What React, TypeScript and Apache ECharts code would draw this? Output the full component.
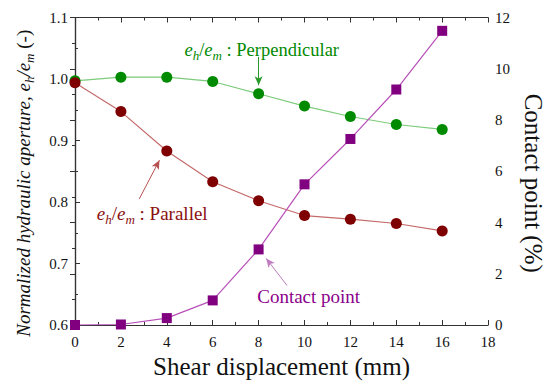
import React, { useEffect, useRef } from "react";
import * as echarts from "echarts";

const shear = [0, 2, 4, 6, 8, 10, 12, 14, 16];
const perpendicular = [0.997, 1.003, 1.003, 0.996, 0.976, 0.956, 0.939, 0.926, 0.918];
const parallel = [0.994, 0.947, 0.883, 0.833, 0.802, 0.778, 0.772, 0.765, 0.753];
const contact = [0, 0.02, 0.27, 0.96, 2.95, 5.49, 7.26, 9.19, 11.48];

const FONT = "Liberation Serif";

const richFor = (color: string, size: number) => ({
  i: { fontStyle: "italic", fontSize: size, color, fontFamily: FONT, lineHeight: size + 6 },
  s: {
    fontStyle: "italic",
    fontSize: Math.round(size * 0.68),
    color,
    fontFamily: FONT,
    verticalAlign: "bottom",
    lineHeight: size + 6,
  },
  n: { fontSize: size, color, fontFamily: FONT, lineHeight: size + 6 },
});

const textPoint = (coord: number[], formatter: string, color: string, size: number) => ({
  coord,
  symbol: "circle",
  symbolSize: 0,
  itemStyle: { color: "transparent" },
  label: {
    show: true,
    position: "right",
    distance: 0,
    formatter,
    rich: richFor(color, size),
  },
});

const arrowLine = (from: number[], to: number[], color: string) => ({
  silent: true,
  animation: false,
  symbol: ["none", "arrow"],
  symbolSize: [6, 9],
  label: { show: false },
  emphasis: { disabled: true },
  lineStyle: { color, width: 1, type: "solid" },
  data: [[{ coord: from }, { coord: to }]],
});

export default function App() {
  const ref = useRef<HTMLDivElement>(null);
  useEffect(() => {
    if (!ref.current) return;
    const chart = echarts.init(ref.current, undefined, { renderer: "svg" });
    const axisLine = { show: true, lineStyle: { color: "#333", width: 1.2 } };
    const tick = { show: true, inside: true, length: 5, lineStyle: { color: "#333" } };
    const minor = { show: true, splitNumber: 2, length: 3, lineStyle: { color: "#333" } };
    const label = { color: "#111", fontSize: 15, fontFamily: FONT };
    chart.setOption({
      animation: false,
      backgroundColor: "#fff",
      textStyle: { fontFamily: FONT },
      grid: { left: 75, right: 64, top: 17.5, bottom: 62 },
      xAxis: [
        {
          type: "value",
          min: 0,
          max: 18,
          interval: 2,
          position: "bottom",
          axisLine,
          axisTick: tick,
          minorTick: minor,
          splitLine: { show: false },
          axisLabel: { ...label, margin: 9 },
          name: "Shear displacement (mm)",
          nameLocation: "middle",
          nameGap: 27,
          nameTextStyle: { fontSize: 25, color: "#111", fontFamily: FONT },
        },
        {
          type: "value",
          min: 0,
          max: 18,
          interval: 2,
          position: "top",
          axisLine,
          axisTick: tick,
          minorTick: minor,
          splitLine: { show: false },
          axisLabel: { show: false },
        },
      ],
      yAxis: [
        {
          type: "value",
          min: 0.6,
          max: 1.1,
          interval: 0.1,
          position: "left",
          axisLine,
          axisTick: tick,
          minorTick: minor,
          splitLine: { show: false },
          axisLabel: { ...label, margin: 7, formatter: (v: number) => v.toFixed(1) },
          name: "{i|Normalized hydraulic aperture, e}{s|h}{i|/e}{s|m}{n| (-)}",
          nameLocation: "middle",
          nameGap: 39,
          nameTextStyle: { rich: richFor("#111", 19), padding: [0, 24, 0, 0] },
        },
        {
          type: "value",
          min: 0,
          max: 12,
          interval: 2,
          position: "right",
          axisLine,
          axisTick: tick,
          minorTick: minor,
          splitLine: { show: false },
          axisLabel: { ...label, margin: 7 },
          name: "Contact point (%)",
          nameLocation: "middle",
          nameRotate: -90,
          nameGap: 25,
          nameTextStyle: {
            fontSize: 25,
            color: "#111",
            fontFamily: FONT,
            padding: [0, 0, 0, 24],
          },
        },
      ],
      series: [
        {
          type: "line",
          name: "Perpendicular",
          xAxisIndex: 0,
          yAxisIndex: 0,
          data: shear.map((x, i) => [x, perpendicular[i]]),
          symbol: "circle",
          symbolSize: 11,
          itemStyle: { color: "#008a00" },
          lineStyle: { color: "#7ccc7c", width: 1.2 },
          markLine: arrowLine([8, 1.036], [8, 0.99], "#2a9a2a"),
          markPoint: {
            silent: true,
            data: [
              textPoint(
                [4.77, 1.047],
                "{i|e}{s|h}{n|/}{i|e}{s|m}{n| : Perpendicular}",
                "#008a00",
                18.5
              ),
            ],
          },
        },
        {
          type: "line",
          name: "Parallel",
          xAxisIndex: 0,
          yAxisIndex: 0,
          data: shear.map((x, i) => [x, parallel[i]]),
          symbol: "circle",
          symbolSize: 11,
          itemStyle: { color: "#7f0000" },
          lineStyle: { color: "#c46a6a", width: 1.2 },
          markLine: arrowLine([2.8, 0.805], [3.68, 0.868], "#b85050"),
          markPoint: {
            silent: true,
            data: [
              textPoint(
                [0.95, 0.782],
                "{i|e}{s|h}{n|/}{i|e}{s|m}{n| : Parallel}",
                "#8b1010",
                19
              ),
            ],
          },
        },
        {
          type: "line",
          name: "Contact point",
          xAxisIndex: 0,
          yAxisIndex: 1,
          data: shear.map((x, i) => [x, contact[i]]),
          symbol: "rect",
          symbolSize: 10,
          itemStyle: { color: "#800080" },
          lineStyle: { color: "#b850b8", width: 1.2 },
          markLine: arrowLine([9.24, 1.54], [8.33, 2.6], "#c07cc0"),
          markPoint: {
            silent: true,
            data: [textPoint([7.94, 1.11], "{n|Contact point}", "#8a008a", 19)],
          },
        },
      ],
    });
    return () => chart.dispose();
  }, []);
  return (
    <div
      ref={ref}
      style={{ position: "fixed", left: 0, top: 0, width: 554, height: 387 }}
    />
  );
}
